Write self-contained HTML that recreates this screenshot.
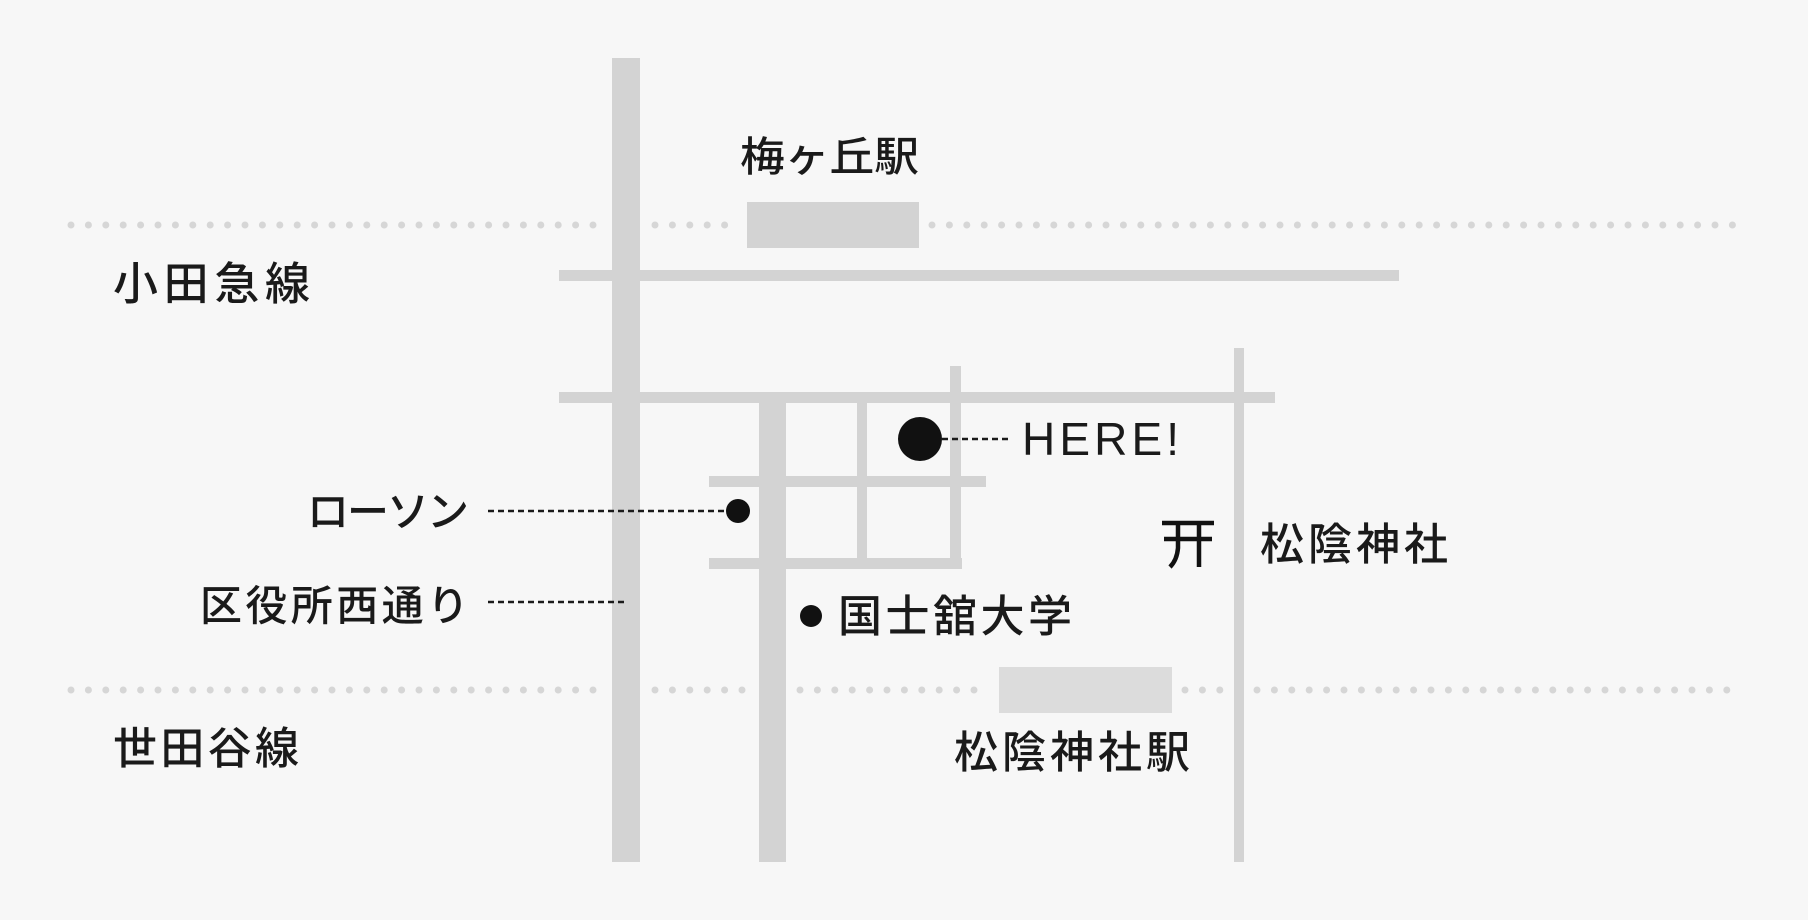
<!DOCTYPE html>
<html><head><meta charset="utf-8"><style>
html,body{margin:0;padding:0;background:#f7f7f7;}
svg{display:block}
text{font-family:"Liberation Sans","Noto Sans CJK JP",sans-serif;fill:#1a1a1a;dominant-baseline:central;font-weight:500;}
</style></head><body>
<svg width="1808" height="920" viewBox="0 0 1808 920" xmlns="http://www.w3.org/2000/svg">
<rect width="1808" height="920" fill="#f7f7f7"/>
<g stroke="#d6d6d6" stroke-width="7" stroke-linecap="round" stroke-dasharray="0 17.4">
<line x1="71" y1="225" x2="600" y2="225"/>
<line x1="655" y1="225" x2="738" y2="225"/>
<line x1="932" y1="225" x2="1735" y2="225"/>
<line x1="71" y1="690" x2="600" y2="690"/>
<line x1="655" y1="690" x2="747" y2="690"/>
<line x1="800" y1="690" x2="989" y2="690"/>
<line x1="1185" y1="690" x2="1222" y2="690"/>
<line x1="1257" y1="690" x2="1735" y2="690"/>
</g>
<rect x="747" y="202" width="172" height="46" fill="#d3d3d3"/>
<rect x="999" y="667" width="173" height="46" fill="#dcdcdc"/>
<g fill="#d3d3d3">
<rect x="612" y="58" width="28" height="804"/>
<rect x="759" y="403" width="27" height="459"/>
<rect x="559" y="270" width="840" height="11"/>
<rect x="559" y="392" width="716" height="11"/>
<rect x="1234" y="348" width="10" height="514"/>
<rect x="950" y="366" width="11" height="202"/>
<rect x="857" y="403" width="10" height="160"/>
<rect x="709" y="476" width="277" height="11"/>
<rect x="709" y="558" width="253" height="11"/>
</g>
<g stroke="#1a1a1a" stroke-width="2.5" stroke-dasharray="6 4">
<line x1="488" y1="511" x2="730" y2="511"/>
<line x1="488" y1="602" x2="628" y2="602"/>
<line x1="942" y1="439" x2="1012" y2="439"/>
</g>
<circle cx="738" cy="511" r="12" fill="#111"/>
<circle cx="920" cy="439" r="22" fill="#111"/>
<circle cx="811" cy="616" r="11" fill="#111"/>
<g stroke="#111" stroke-width="4.5" fill="none">
<line x1="1162" y1="523" x2="1214" y2="523"/>
<line x1="1164" y1="539" x2="1212" y2="539"/>
<path d="M1178 523 V548 Q1177 560 1170 567"/>
<line x1="1199" y1="523" x2="1199" y2="567"/>
</g>
<text x="740" y="157" font-size="41" textLength="179" lengthAdjust="spacingAndGlyphs">梅ヶ丘駅</text>
<text x="113" y="284" font-size="45" textLength="197" lengthAdjust="spacing">小田急線</text>
<text x="113" y="749" font-size="44" textLength="186" lengthAdjust="spacing">世田谷線</text>
<text x="307" y="512" font-size="42" textLength="162" lengthAdjust="spacing">ローソン</text>
<text x="200" y="606" font-size="42" textLength="269" lengthAdjust="spacing">区役所西通り</text>
<text x="1022" y="439" font-size="46" textLength="157" lengthAdjust="spacing">HERE!</text>
<text x="838" y="617" font-size="44" textLength="234" lengthAdjust="spacing">国士舘大学</text>
<text x="1260" y="545" font-size="44" textLength="188" lengthAdjust="spacing">松陰神社</text>
<text x="954" y="753" font-size="44" textLength="236" lengthAdjust="spacing">松陰神社駅</text>
</svg>
</body></html>
